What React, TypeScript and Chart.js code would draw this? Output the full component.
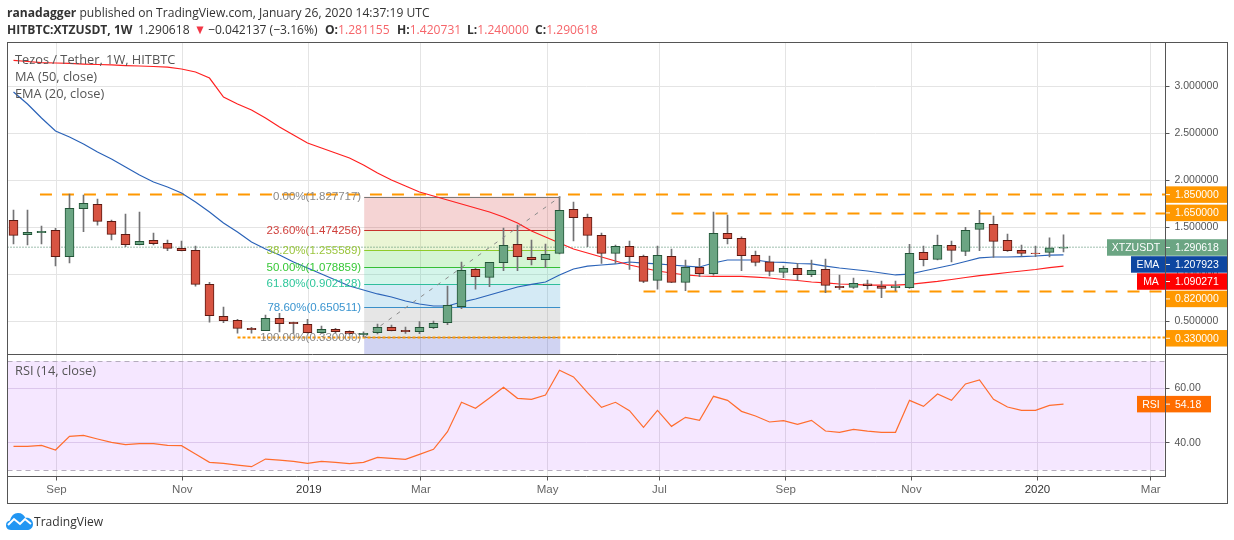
import React, { useEffect, useRef } from "react";
import Chart from "chart.js/auto";

// open, high, low, close of each weekly candle (oldest first)
const opens = [1.576,1.423,1.445,1.470,1.189,1.700,1.746,1.565,1.427,1.317,1.363,1.331,1.278,1.257,0.895,0.555,0.512,0.427,0.402,0.533,0.491,0.470,0.381,0.416,0.395,0.360,0.381,0.438,0.406,0.391,0.434,0.487,0.657,1.055,0.970,1.126,1.321,1.182,1.157,1.225,1.693,1.608,1.416,1.225,1.299,1.193,0.938,1.193,0.916,1.076,1.009,1.438,1.384,1.204,1.136,1.023,1.065,0.998,1.055,0.874,0.863,0.902,0.877,0.860,0.860,1.235,1.161,1.310,1.246,1.480,1.533,1.363,1.257,1.229,1.235,1.281];
const highs = [1.686,1.686,1.516,1.491,1.856,1.845,1.803,1.579,1.643,1.665,1.441,1.367,1.356,1.303,0.916,0.654,0.523,0.438,0.569,0.587,0.494,0.523,0.452,0.427,0.402,0.391,0.473,0.462,0.441,0.498,0.505,0.877,1.133,1.069,1.129,1.494,1.526,1.367,1.324,1.828,1.771,1.643,1.441,1.314,1.356,1.207,1.303,1.271,1.154,1.172,1.665,1.633,1.402,1.250,1.196,1.090,1.118,1.154,1.165,0.994,0.962,0.941,0.931,0.931,1.321,1.303,1.420,1.356,1.501,1.682,1.622,1.431,1.314,1.303,1.391,1.421];
const lows = [1.324,1.314,1.324,1.090,1.122,1.455,1.526,1.367,1.296,1.314,1.314,1.253,1.250,0.877,0.494,0.487,0.377,0.377,0.402,0.388,0.374,0.377,0.374,0.381,0.363,0.338,0.367,0.399,0.374,0.370,0.423,0.466,0.636,0.845,0.870,1.040,1.040,1.101,1.072,1.218,1.356,1.296,1.118,1.118,1.055,0.913,0.845,0.913,0.828,0.977,0.994,1.324,1.040,1.090,0.984,0.966,0.941,0.977,0.806,0.842,0.853,0.845,0.753,0.824,0.853,1.090,1.154,1.133,1.200,1.253,1.182,1.246,1.196,1.189,1.186,1.240];
const closes = [1.416,1.448,1.459,1.189,1.704,1.757,1.565,1.427,1.317,1.353,1.328,1.278,1.253,0.895,0.562,0.509,0.427,0.413,0.533,0.477,0.477,0.381,0.416,0.391,0.370,0.374,0.438,0.402,0.391,0.438,0.480,0.672,1.044,0.977,1.129,1.310,1.189,1.157,1.214,1.682,1.604,1.416,1.225,1.299,1.189,0.927,1.204,0.916,1.076,1.009,1.438,1.381,1.200,1.129,1.033,1.065,0.998,1.044,0.884,0.860,0.906,0.881,0.853,0.877,1.225,1.157,1.310,1.257,1.470,1.544,1.353,1.253,1.225,1.221,1.285,1.291];

const ma50 = [3.277,3.266,3.255,3.250,3.245,3.239,3.234,3.229,3.223,3.218,3.213,3.207,3.186,3.154,3.090,2.888,2.814,2.750,2.665,2.569,2.484,2.399,2.346,2.293,2.239,2.165,2.080,2.005,1.941,1.878,1.835,1.793,1.750,1.707,1.665,1.612,1.548,1.463,1.399,1.335,1.271,1.229,1.186,1.144,1.101,1.069,1.037,1.016,0.995,0.984,0.979,0.979,0.979,0.973,0.963,0.947,0.936,0.920,0.910,0.899,0.894,0.888,0.888,0.888,0.894,0.910,0.926,0.947,0.968,0.989,1.005,1.021,1.037,1.053,1.074,1.090];
const ema20 = [2.941,2.814,2.665,2.527,2.463,2.388,2.303,2.229,2.144,2.059,1.984,1.931,1.867,1.771,1.665,1.548,1.452,1.346,1.271,1.207,1.133,1.069,1.005,0.941,0.878,0.835,0.793,0.761,0.718,0.686,0.665,0.665,0.707,0.739,0.782,0.824,0.867,0.894,0.920,0.995,1.059,1.090,1.101,1.112,1.133,1.122,1.112,1.101,1.090,1.080,1.122,1.154,1.154,1.154,1.133,1.128,1.117,1.112,1.090,1.069,1.053,1.037,1.016,0.995,1.005,1.037,1.069,1.101,1.138,1.176,1.186,1.186,1.191,1.197,1.207,1.208];
const rsi14 = [38.65,38.65,39.02,37.3,42.33,42.7,41.35,40.12,39.26,39.63,39.63,39.02,38.9,35.83,32.76,32.39,31.78,31.17,33.99,33.62,33.13,32.39,33.13,32.76,32.27,32.76,34.6,34.23,33.87,35.71,37.55,44.05,54.85,52.64,56.44,60.37,56.32,55.95,57.55,66.63,64.17,58.4,53.0,54.85,51.78,45.64,51.9,46.01,49.33,48.22,57.06,55.58,51.53,49.82,47.61,48.1,46.75,48.22,44.29,43.8,44.91,44.29,43.8,43.8,55.58,53.37,57.91,55.58,61.6,63.07,55.95,53.13,51.9,51.9,53.74,54.18];

// x axis: week position of each month tick, and its label
const timeTickPositions = [3.07,12.06,21.1,29.1,38.15,46.14,55.16,64.14,73.14,81.23];
const timeTickLabels = ["Sep","Nov","2019","Mar","May","Jul","Sep","Nov","2020","Mar"];
const priceTicks = [0.5,1,1.5,2,2.5,3];
const rsiTicks = [40,60];

// horizontal levels: price and the week they start at
const resistance185 = 1.85, resistance185Start = 1.89;
const resistance165 = 1.65, resistance165Start = 47;
const support082 = 0.82, support082Start = 45;
const support033 = 0.33, support033Start = 16;
const lastPrice = 1.290618;

// Fibonacci retracement
const fibStartWeek = 25.05, fibEndWeek = 39.05;
const fibRatios = ["0.00%","23.60%","38.20%","50.00%","61.80%","78.60%","100.00%"];
const fibPrices = [1.827717,1.474256,1.255589,1.078859,0.902128,0.650511,0.33];

const FIB_LINE = ["#787878","#C8322D","#8FCB2A","#36BE36","#2FBE9B","#3A8FC8","#787878"];
const FIB_TEXT = ["#8a8a8a","#D0403C","#9BC53D","#37C837","#2FC79B","#3B95D0","#8a8a8a"];
const FIB_FILL = ["rgba(204,40,40,.2)","rgba(149,204,40,.2)","rgba(40,204,40,.2)","rgba(40,204,149,.2)","rgba(40,149,204,.2)","rgba(128,128,128,.2)"];

const FONT = '"Open Sans", sans-serif';
const AXIS_FONT = '"Liberation Sans", sans-serif';
const WEEK_MIN = -6 / 14, WEEK_MAX = 82.2857;

const UP = "#6BA583", UP_B = "#225437", DOWN = "#D75442", DOWN_B = "#5B1A13";

const weeks = closes.map((_, i) => i);
const isUp = closes.map((c, i) => c >= opens[i]);

const badges = [
  { left: "", text: "1.850000", price: 1.85, shift: 0, color: "#FF9800" },
  { left: "", text: "1.650000", price: 1.65, shift: -0.5, color: "#FF9800" },
  { left: "XTZUSDT", text: "1.290618", price: 1.290618, shift: 0.3, color: "#6BA583" },
  { left: "EMA", text: "1.207923", price: 1.207923, shift: 9.5, color: "#0E47A1" },
  { left: "MA", text: "1.090271", price: 1.090271, shift: 15.5, color: "#FF0000" },
  { left: "", text: "0.820000", price: 0.82, shift: 7.5, color: "#FF9800" },
  { left: "", text: "0.330000", price: 0.33, shift: 0.8, color: "#FF9800" },
];

const drawingPlugin = {
  id: "drawings",
  beforeDatasetsDraw(chart: any) {
    const { ctx, scales } = chart;
    const x = scales.x, y = scales.y, r = scales.rsi;
    ctx.save();
    // RSI band
    ctx.fillStyle = "rgba(153,21,255,.1)";
    ctx.fillRect(x.left, r.getPixelForValue(70), x.right - x.left - 1, r.getPixelForValue(30) - r.getPixelForValue(70));
    ctx.strokeStyle = "#B4ACBC";
    ctx.lineWidth = 1;
    ctx.setLineDash([5, 4]);
    [70, 30].forEach((v) => {
      const py = Math.round(r.getPixelForValue(v)) + 0.5;
      ctx.beginPath(); ctx.moveTo(x.left, py); ctx.lineTo(x.right - 1, py); ctx.stroke();
    });
    ctx.setLineDash([]);
    // Fibonacci zones
    const fx0 = x.getPixelForValue(fibStartWeek), fx1 = x.getPixelForValue(fibEndWeek);
    for (let i = 0; i < fibPrices.length - 1; i++) {
      const a = y.getPixelForValue(fibPrices[i]), b = y.getPixelForValue(fibPrices[i + 1]);
      ctx.fillStyle = FIB_FILL[i];
      ctx.fillRect(fx0, a, fx1 - fx0, b - a);
    }
    const lastY = y.getPixelForValue(fibPrices[fibPrices.length - 1]);
    ctx.fillStyle = "rgba(60,70,200,.24)";
    ctx.fillRect(fx0, lastY, fx1 - fx0, y.bottom - lastY);
    fibPrices.forEach((p, i) => {
      const py = Math.round(y.getPixelForValue(p)) + 0.5;
      ctx.strokeStyle = FIB_LINE[i];
      ctx.beginPath(); ctx.moveTo(fx0, py); ctx.lineTo(fx1, py); ctx.stroke();
    });
    ctx.restore();
  },
  afterDraw(chart: any) {
    const { ctx, scales } = chart;
    const x = scales.x, y = scales.y, r = scales.rsi;
    ctx.save();
    // Fibonacci labels
    ctx.font = "11.5px " + AXIS_FONT;
    ctx.textAlign = "right";
    ctx.textBaseline = "middle";
    const fx0 = x.getPixelForValue(fibStartWeek);
    fibPrices.forEach((p, i) => {
      ctx.fillStyle = FIB_TEXT[i];
      ctx.fillText(fibRatios[i] + "(" + p.toFixed(6) + ")", fx0 - 3, y.getPixelForValue(p) + 0.5);
    });
    // pane legends
    ctx.textAlign = "left";
    ctx.fillStyle = "#555";
    ctx.font = "12.8px " + FONT;
    ctx.fillText("Tezos / Tether, 1W, HITBTC", 15, 60.5);
    ctx.fillText("MA (50, close)", 15, 77.5);
    ctx.fillText("EMA (20, close)", 15, 94.5);
    ctx.fillText("RSI (14, close)", 15, 371.5);
    // axis badges
    const H = 16.5, ax = x.right;
    ctx.font = "10.5px " + AXIS_FONT;
    badges.forEach((b) => {
      const cy = y.getPixelForValue(b.price) + b.shift;
      ctx.fillStyle = b.color;
      ctx.fillRect(ax + 0.5, cy - H / 2, 62, H);
      ctx.fillStyle = "#fff";
      ctx.fillRect(ax + 0.5, cy - 0.5, 4, 1);
      ctx.textAlign = "left";
      ctx.fillText(b.text, ax + 9.5, cy + 0.5);
      if (b.left) {
        const w = b.left.length > 3 ? 58 : b.left === "EMA" ? 34 : 28;
        ctx.fillStyle = b.color;
        ctx.fillRect(ax - 0.5 - w, cy - H / 2, w, H);
        ctx.fillStyle = "#fff";
        ctx.textAlign = "center";
        ctx.fillText(b.left, ax - 0.5 - w / 2, cy + 0.5);
      }
    });
    // RSI badge
    const ry = r.getPixelForValue(rsi14[rsi14.length - 1]);
    ctx.fillStyle = "#FF6D00";
    ctx.fillRect(ax + 0.5, ry - H / 2, 45, H);
    ctx.fillRect(ax - 28.5, ry - H / 2, 28, H);
    ctx.fillStyle = "#fff";
    ctx.fillRect(ax + 0.5, ry - 0.5, 4, 1);
    ctx.textAlign = "left";
    ctx.fillText(rsi14[rsi14.length - 1].toFixed(2), ax + 9.5, ry + 0.5);
    ctx.textAlign = "center";
    ctx.fillText("RSI", ax - 14.5, ry + 0.5);
    // frame
    ctx.strokeStyle = "#555";
    ctx.lineWidth = 1;
    ctx.strokeRect(7.5, 42.5, 1220, 461);
    ctx.beginPath();
    ctx.moveTo(7.5, 354.5); ctx.lineTo(1227.5, 354.5);
    ctx.stroke();
    ctx.restore();
  },
};

const level = (price: number, start: number, dash: number[], order: number) => ({
  type: "line", yAxisID: "y", order,
  data: [{ x: start, y: price }, { x: WEEK_MAX, y: price }],
  borderColor: "#FF9800", borderWidth: 2, borderDash: dash, pointRadius: 0,
});

export default function App() {
  const ref = useRef<HTMLCanvasElement | null>(null);
  useEffect(() => {
    const chart = new (Chart as any)(ref.current, {
      type: "bar",
      plugins: [drawingPlugin],
      data: {
        datasets: [
          {
            type: "line", yAxisID: "y", order: 0,
            data: [{ x: fibStartWeek, y: fibPrices[6] }, { x: fibEndWeek, y: fibPrices[0] }],
            borderColor: "#8a8a8a", borderWidth: 1, borderDash: [4, 6], pointRadius: 0,
          },
          {
            type: "bar", yAxisID: "y", order: 1, grouped: false, barThickness: 9,
            data: weeks.map((w) => ({ x: w, y: [opens[w], closes[w]] })),
            backgroundColor: isUp.map((u) => (u ? UP : DOWN)),
            borderColor: isUp.map((u) => (u ? UP_B : DOWN_B)),
            borderWidth: 1, borderSkipped: false,
          },
          {
            type: "bar", yAxisID: "y", order: 2, grouped: false, barThickness: 1,
            data: weeks.map((w) => ({ x: w, y: [lows[w], highs[w]] })),
            backgroundColor: "#737375", borderWidth: 0,
          },
          {
            type: "line", yAxisID: "y", order: 3,
            data: weeks.map((w) => ({ x: w, y: ma50[w] })),
            borderColor: "#FF2020", borderWidth: 1.2, pointRadius: 0, tension: 0,
          },
          {
            type: "line", yAxisID: "y", order: 4,
            data: weeks.map((w) => ({ x: w, y: ema20[w] })),
            borderColor: "#2B63B8", borderWidth: 1.2, pointRadius: 0, tension: 0,
          },
          level(resistance185, resistance185Start, [12, 10], 5),
          level(resistance165, resistance165Start, [12, 10], 5),
          level(support082, support082Start, [12, 10], 5),
          level(support033, support033Start, [3, 2], 5),
          {
            type: "line", yAxisID: "y", order: 6,
            data: [{ x: WEEK_MIN, y: lastPrice }, { x: WEEK_MAX, y: lastPrice }],
            borderColor: "#3f7f5f", borderWidth: 1, borderDash: [1, 2], pointRadius: 0,
          },
          {
            type: "line", yAxisID: "rsi", order: 7,
            data: weeks.map((w) => ({ x: w, y: rsi14[w] })),
            borderColor: "#FF6D2E", borderWidth: 1.2, pointRadius: 0, tension: 0,
          },
        ],
      },
      options: {
        animation: false,
        responsive: false,
        devicePixelRatio: 1,
        events: [],
        layout: { padding: { left: 7.5, top: 43, right: 6.5, bottom: 36.5 } },
        plugins: { legend: { display: false }, tooltip: { enabled: false }, title: { display: false } },
        scales: {
          x: {
            type: "linear", min: WEEK_MIN, max: WEEK_MAX, offset: false,
            afterFit: (s: any) => { s.height = 27; },
            afterBuildTicks: (s: any) => { s.ticks = timeTickPositions.map((value) => ({ value })); },
            grid: { offset: false, color: "#E4E4E4", tickColor: "#555", tickLength: 4 },
            border: { color: "#555" },
            ticks: {
              autoSkip: false, maxRotation: 0, padding: 2,
              color: (c: any) => (/^20/.test(c.tick?.label ?? "") ? "#333" : "#666"),
              font: { family: AXIS_FONT, size: 11.5 },
              callback: (v: number) => timeTickLabels[timeTickPositions.indexOf(v)] ?? "",
            },
          },
          y: {
            type: "linear", position: "right", stack: "panes", stackWeight: 311.5,
            min: 0.14894, max: 3.46277,
            afterFit: (s: any) => { s.width = 62; },
            afterBuildTicks: (s: any) => { s.ticks = priceTicks.map((value) => ({ value })); },
            grid: { color: "#E4E4E4", tickColor: "#555", tickLength: 4 },
            border: { color: "#555" },
            ticks: { padding: 5, color: "#555", font: { family: AXIS_FONT, size: 10.5 }, callback: (v: number) => v.toFixed(6) },
          },
          rsi: {
            type: "linear", position: "right", stack: "panes", stackWeight: 122,
            min: 27.57, max: 72.43,
            afterFit: (s: any) => { s.width = 62; },
            afterBuildTicks: (s: any) => { s.ticks = rsiTicks.map((value) => ({ value })); },
            grid: { color: "#E4DCEA", tickColor: "#555", tickLength: 4 },
            border: { color: "#555" },
            ticks: { padding: 5, color: "#555", font: { family: AXIS_FONT, size: 10.5 }, callback: (v: number) => v.toFixed(2) },
          },
        },
      },
    });
    return () => chart.destroy();
  }, []);

  const row: React.CSSProperties = { position: "absolute", whiteSpace: "nowrap", fontFamily: FONT, fontSize: 13, lineHeight: "17px", color: "#333", transform: "scaleX(0.93)", transformOrigin: "left center" };
  const red = "#F6656A";
  return (
    <div style={{ position: "absolute", left: 0, top: 0, width: 1234, height: 540, background: "#fff", overflow: "hidden" }}>
      <canvas ref={ref} width={1234} height={540} style={{ display: "block" }} />
      <div style={{ ...row, left: 7, top: 4 }}><b>ranadagger</b> published on TradingView.com, January 26, 2020 14:37:19 UTC</div>
      <div style={{ ...row, left: 7, top: 21 }}><b>HITBTC:XTZUSDT, 1W</b></div>
      <div style={{ ...row, left: 138, top: 21 }}>1.290618</div>
      <div style={{ ...row, left: 194, top: 21, color: "#F23645" }}>▼</div>
      <div style={{ ...row, left: 208, top: 21 }}>−0.042137 (−3.16%)</div>
      <div style={{ ...row, left: 325, top: 21 }}><b>O:</b><span style={{ color: red }}>1.281155</span></div>
      <div style={{ ...row, left: 397, top: 21 }}><b>H:</b><span style={{ color: red }}>1.420731</span></div>
      <div style={{ ...row, left: 467, top: 21 }}><b>L:</b><span style={{ color: red }}>1.240000</span></div>
      <div style={{ ...row, left: 535, top: 21 }}><b>C:</b><span style={{ color: red }}>1.290618</span></div>
      <svg style={{ position: "absolute", left: 6, top: 513 }} width={27} height={17} viewBox="0 0 27 17">
        <path d="M5 17C1 17 0 14 0 12C0 9 2 8 4 7.5C5 3 8 0 12 0C16 0 18 2 19.5 5C23 4 27 7 27 11C27 15 24 17 21 17Z" fill="#2196F3" />
        <polyline points="2,12 8,6 14,11 19,6 25,11" fill="none" stroke="#fff" strokeWidth="2" />
      </svg>
      <div style={{ ...row, left: 34, top: 513 }}>TradingView</div>
    </div>
  );
}
